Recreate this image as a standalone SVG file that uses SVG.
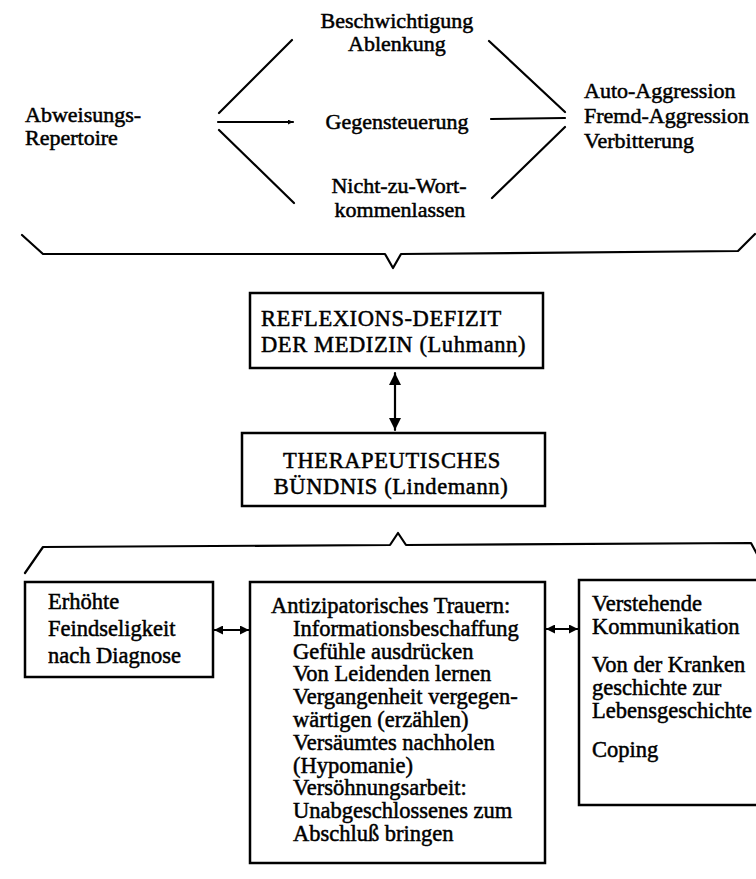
<svg xmlns="http://www.w3.org/2000/svg" width="756" height="879" viewBox="0 0 756 879">
<style>
  text { font-family: "Liberation Serif", "Times New Roman", serif; fill: #000; stroke: #000; stroke-width: 0.5; }
  .t { font-size: 22px; }
  .b { font-size: 22.5px; }
  .caps { font-size: 22.5px; letter-spacing: 0.6px; }
  .mid { text-anchor: middle; }
  .box { fill: #fff; stroke: #000; stroke-width: 2.5; }
  .ln { fill: none; stroke: #000; stroke-width: 2.2; stroke-linecap: round; stroke-linejoin: round; }
</style>
<defs>
  <marker id="ah" viewBox="0 0 10 10" refX="10" refY="5" markerWidth="12" markerHeight="12" markerUnits="userSpaceOnUse" orient="auto-start-reverse">
    <path d="M0,0 L10,5 L0,10 z" fill="#000"/>
  </marker>
  <marker id="ahs" viewBox="0 0 10 10" refX="10" refY="5" markerWidth="9" markerHeight="9" markerUnits="userSpaceOnUse" orient="auto-start-reverse">
    <path d="M0,0 L10,5 L0,10 z" fill="#000"/>
  </marker>
  <marker id="aht" viewBox="0 0 10 10" refX="10" refY="5" markerWidth="7" markerHeight="5" markerUnits="userSpaceOnUse" orient="auto">
    <path d="M0,0 L10,5 L0,10 z" fill="#000"/>
  </marker>
</defs>
<rect width="756" height="879" fill="#fff"/>

<g id="connectors">
  <!-- left fan -->
  <line class="ln" x1="219" y1="113" x2="292" y2="40"/>
  <line class="ln" x1="218" y1="122" x2="293" y2="122" stroke-width="3" marker-end="url(#aht)"/>
  <line class="ln" x1="219" y1="130" x2="294" y2="203"/>
  <!-- right fan -->
  <line class="ln" x1="489" y1="41" x2="565" y2="112"/>
  <line class="ln" x1="491" y1="119" x2="565" y2="118" stroke-width="2.8"/>
  <line class="ln" x1="565" y1="127" x2="492" y2="198"/>
  <!-- upper brace -->
  <path class="ln" d="M22,235 L43,254 L385,254 L393,268 L401,254 L738,251 L755,234"/>
  <!-- vertical double arrow -->
  <line class="ln" x1="395" y1="373" x2="395" y2="430" marker-start="url(#ah)" marker-end="url(#ah)"/>
  <!-- lower brace -->
  <path class="ln" d="M25,573 L43,547 L390,545 L398,533 L406,545 L751,543 L758,556"/>
  <!-- lower double arrows -->
  <line class="ln" x1="214" y1="630" x2="249" y2="630" stroke-width="2.5" marker-start="url(#ahs)" marker-end="url(#ahs)"/>
  <line class="ln" x1="546" y1="629" x2="578" y2="629" stroke-width="2.5" marker-start="url(#ahs)" marker-end="url(#ahs)"/>
</g>

<g id="n-beschwichtigung">
  <text class="t mid" x="397" y="28">Beschwichtigung</text>
  <text class="t mid" x="397" y="51">Ablenkung</text>
</g>
<g id="n-abweisung">
  <text class="t" x="25" y="122">Abweisungs-</text>
  <text class="t" x="25" y="145">Repertoire</text>
</g>
<g id="n-gegensteuerung">
  <text class="t mid" x="397" y="129">Gegensteuerung</text>
</g>
<g id="n-nichtzuwort">
  <text class="t mid" x="399" y="193">Nicht-zu-Wort-</text>
  <text class="t mid" x="400" y="217">kommenlassen</text>
</g>
<g id="n-aggression">
  <text class="t" x="584" y="98">Auto-Aggression</text>
  <text class="t" x="584" y="123">Fremd-Aggression</text>
  <text class="t" x="584" y="148">Verbitterung</text>
</g>

<g id="n-reflexion">
  <rect class="box" x="250" y="293" width="293" height="75"/>
  <text class="caps" x="261" y="326">REFLEXIONS-DEFIZIT</text>
  <text class="caps" x="261" y="352" letter-spacing="0">DER MEDIZIN (Luhmann)</text>
</g>
<g id="n-therapeutisch">
  <rect class="box" x="242" y="433" width="303" height="73"/>
  <text class="caps mid" x="392" y="468" letter-spacing="0.2">THERAPEUTISCHES</text>
  <text class="caps mid" x="391" y="494" letter-spacing="0">BÜNDNIS (Lindemann)</text>
</g>

<g id="n-feindseligkeit">
  <rect class="box" x="25" y="582" width="188" height="95"/>
  <text class="b" x="48" y="609">Erhöhte</text>
  <text class="b" x="48" y="636">Feindseligkeit</text>
  <text class="b" x="48" y="663">nach Diagnose</text>
</g>
<g id="n-trauern">
  <rect class="box" x="250" y="582" width="295" height="281"/>
  <text class="b" x="271" y="613">Antizipatorisches Trauern:</text>
  <text class="b" x="293" y="635.8">Informationsbeschaffung</text>
  <text class="b" x="293" y="658.6">Gefühle ausdrücken</text>
  <text class="b" x="293" y="681.4">Von Leidenden lernen</text>
  <text class="b" x="293" y="704.2">Vergangenheit vergegen-</text>
  <text class="b" x="293" y="727">wärtigen (erzählen)</text>
  <text class="b" x="293" y="749.8">Versäumtes nachholen</text>
  <text class="b" x="293" y="772.6">(Hypomanie)</text>
  <text class="b" x="293" y="795.4">Versöhnungsarbeit:</text>
  <text class="b" x="293" y="818.2">Unabgeschlossenes zum</text>
  <text class="b" x="293" y="841">Abschluß bringen</text>
</g>
<g id="n-kommunikation">
  <rect class="box" x="579" y="580" width="200" height="225"/>
  <text class="b" x="592" y="611">Verstehende</text>
  <text class="b" x="592" y="634">Kommunikation</text>
  <text class="b" x="592" y="672">Von der Kranken</text>
  <text class="b" x="592" y="695">geschichte zur</text>
  <text class="b" x="592" y="718">Lebensgeschichte</text>
  <text class="b" x="592" y="757">Coping</text>
</g>
</svg>
